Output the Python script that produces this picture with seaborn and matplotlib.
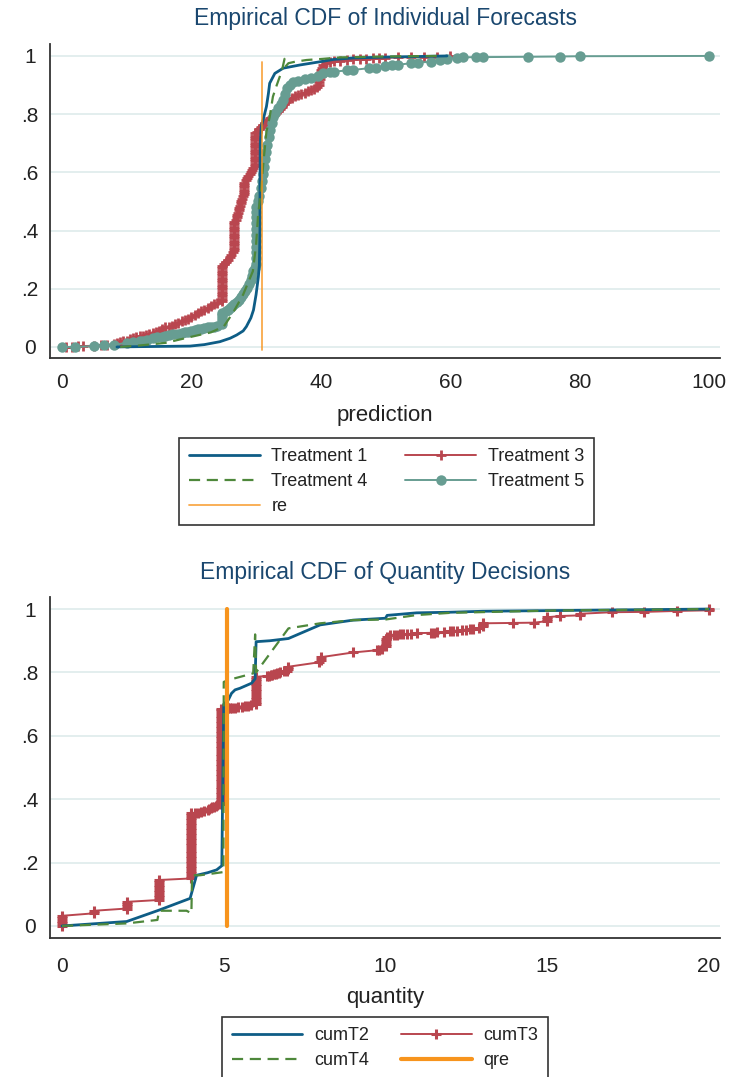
import matplotlib
matplotlib.use("Agg")
import matplotlib.pyplot as plt
import seaborn as sns
import numpy as np

# ---------------- data: top panel (prediction) ----------------
t1_x = [8.5, 12, 16, 19.8, 22, 24.4, 26, 27, 28, 28.5, 29.2, 29.6, 30.0, 30.35, 30.5, 30.6, 30.6, 30.65,
        30.8, 31.2, 31.6, 31.9, 32.1, 32.9, 34.2, 36.8, 39.9, 42, 45, 50, 55, 59.5]
t1_y = [0.0, 0.001, 0.002, 0.003, 0.008, 0.018, 0.03, 0.041, 0.055, 0.07, 0.10, 0.127, 0.18, 0.24, 0.28, 0.40, 0.55, 0.70,
        0.757, 0.79, 0.826, 0.87, 0.906, 0.94, 0.958, 0.969, 0.98, 0.988, 0.993, 0.996, 0.998, 1.0]

t3_x = [0.7, 1.5, 2.5, 3.3, 5, 6, 7, 8,
        8.5, 9, 9.5, 10, 10.5, 11, 11.5, 12, 12.5, 13, 13.5, 14, 14.5, 15, 15.5, 16, 16.5, 17, 17.5, 18,
        18.5, 19, 19.5, 20, 20.5, 21, 21.5, 22, 22.5, 23, 23.5, 24,
        24.7, 24.7, 24.7, 24.7, 24.7, 24.7, 24.7, 24.7, 24.7, 24.7, 24.7, 24.7, 24.7, 24.7, 24.7, 24.7,
        25.0, 25.3, 25.6, 25.9, 26.2, 26.4,
        26.6, 26.6, 26.6, 26.6, 26.6, 26.6, 26.6, 26.6, 26.6, 26.6, 26.6, 26.6, 26.6,
        26.9, 27.0, 27.1, 27.2, 27.3, 27.4, 27.5, 27.6, 27.7, 27.8, 28.0,
        28.2, 28.2, 28.2, 28.2, 28.2, 28.2,
        28.4, 28.6, 28.8, 29.0, 29.2, 29.4, 29.6,
        29.9, 29.9, 29.9, 29.9, 29.9, 29.9, 29.9, 29.9, 29.9, 29.9, 29.9, 29.9, 29.9, 29.9, 29.9,
        30.2, 30.5, 30.8, 31.1, 31.4, 31.8, 32.2, 32.6, 33, 33.4, 33.7, 34, 34.3, 34.6, 35, 35.5, 36, 36.5,
        37, 37.5, 38, 38.5, 39, 39.4,
        39.7, 39.8, 39.9, 40, 40, 40.1, 40.2, 40.3,
        40.8, 41.5, 42, 43, 44, 45, 46, 47, 48, 49, 50, 52, 54, 56, 58, 60]
t3_y = [0.0, 0.0, 0.002, 0.003, 0.004, 0.005, 0.006, 0.010,
        0.014, 0.018, 0.020, 0.022, 0.026, 0.030, 0.033, 0.036, 0.038, 0.040, 0.044, 0.047, 0.051, 0.055,
        0.062, 0.068, 0.070, 0.072, 0.078, 0.082, 0.088, 0.092, 0.097, 0.103, 0.110, 0.117, 0.122, 0.128,
        0.134, 0.140, 0.146, 0.150,
        0.158, 0.166, 0.174, 0.182, 0.190, 0.198, 0.206, 0.214, 0.222, 0.230, 0.238, 0.246, 0.254, 0.262, 0.270, 0.278,
        0.284, 0.292, 0.300, 0.308, 0.316, 0.325,
        0.333, 0.341, 0.349, 0.357, 0.365, 0.373, 0.381, 0.389, 0.397, 0.405, 0.413, 0.421, 0.429,
        0.437, 0.445, 0.453, 0.461, 0.469, 0.477, 0.485, 0.493, 0.501, 0.509, 0.517,
        0.525, 0.533, 0.541, 0.549, 0.557, 0.565,
        0.572, 0.579, 0.586, 0.593, 0.600, 0.607, 0.614,
        0.622, 0.630, 0.638, 0.646, 0.654, 0.662, 0.670, 0.678, 0.686, 0.694, 0.702, 0.710, 0.718, 0.726, 0.734,
        0.740, 0.748, 0.755, 0.762, 0.770, 0.778, 0.786, 0.794, 0.802, 0.810, 0.818, 0.826, 0.834, 0.842, 0.850,
        0.856, 0.862, 0.866, 0.870, 0.874, 0.878, 0.882, 0.886, 0.892,
        0.900, 0.910, 0.920, 0.930, 0.940, 0.950, 0.960, 0.970,
        0.976, 0.979, 0.981, 0.984, 0.986, 0.988, 0.990, 0.991, 0.992, 0.993, 0.994, 0.995, 0.996, 0.997, 0.998, 1.0]

t4_x = [9, 12, 16, 20, 23, 25, 26.5, 28, 29.5, 30, 30.3, 30.8, 31.2, 31.6, 32.1, 32.6, 33.2, 34.0, 34.4, 34.6,
        35, 36, 37.8, 40.3, 43, 50, 58]
t4_y = [0.0, 0.005, 0.014, 0.035, 0.05, 0.07, 0.12, 0.18, 0.26, 0.35, 0.45, 0.55, 0.65, 0.74, 0.79, 0.86, 0.90, 0.95, 0.99, 0.965,
        0.975, 0.98, 0.986, 0.99, 0.995, 0.998, 1.0]

t5_x = [0, 2, 5, 6.5, 8, 10, 11, 12, 12.5, 13.2, 14, 14.7, 15.5, 16, 16.5, 17.2, 18, 18.5, 19, 19.5, 20, 20.5,
        21, 21.5, 22, 22.5, 23, 23.5, 24,
        24.8, 24.8, 24.8, 24.8, 24.8,
        25.3, 25.7, 26, 26.3, 26.6, 27, 27.3, 27.6, 28, 28.3, 28.6, 28.9, 29.2, 29.4, 29.6, 29.8,
        30, 30, 30, 30, 30, 30, 30, 30, 30, 30, 30,
        30.3, 30.5, 30.7, 30.9, 31.1, 31.3, 31.4, 31.5, 31.7, 32, 32.2, 32.4, 32.6, 33, 33.4, 33.8, 34.2, 34.5, 34.8,
        35.2, 35.7, 36.5, 37.5, 38.5, 39.5, 40.3, 41.5, 42, 44, 45, 47.5, 48.5, 50, 51, 52, 54, 55, 57, 58.5, 59.5,
        61, 62, 64, 65, 72, 77, 80, 100]
t5_y = [0.0, 0.0, 0.003, 0.005, 0.006, 0.015, 0.018, 0.019, 0.020, 0.025, 0.030, 0.033, 0.035, 0.038, 0.040, 0.043,
        0.045, 0.048, 0.050, 0.052, 0.055, 0.058, 0.060, 0.063, 0.065, 0.067, 0.068, 0.070, 0.072,
        0.080, 0.090, 0.100, 0.110, 0.118,
        0.122, 0.128, 0.135, 0.140, 0.146, 0.155, 0.163, 0.172, 0.182, 0.192, 0.203, 0.215, 0.230, 0.245, 0.260, 0.272,
        0.285, 0.305, 0.325, 0.345, 0.365, 0.385, 0.405, 0.425, 0.445, 0.465, 0.480,
        0.500, 0.520, 0.545, 0.570, 0.595, 0.620, 0.645, 0.670, 0.695, 0.720, 0.745, 0.770, 0.790, 0.805, 0.820, 0.835,
        0.850, 0.870, 0.890, 0.900, 0.910, 0.915, 0.920, 0.925, 0.930, 0.940, 0.945, 0.946, 0.950, 0.952, 0.958, 0.960,
        0.965, 0.969, 0.970, 0.975, 0.977, 0.980, 0.985, 0.988, 0.993, 0.995, 0.996, 0.996, 0.997, 0.998, 0.999, 1.0]

re_x = [30.86, 30.86]
re_y = [-0.01, 0.979]

# ---------------- data: bottom panel (quantity) ----------------
c2_x = [0, 2, 3, 3.96, 4.16, 4.5, 4.78, 4.94, 4.97, 5.0, 5.14, 5.24, 5.35, 5.5, 5.86, 5.97, 6.0, 6.43, 7.0, 7.98,
        9.0, 10.0, 10.05, 10.96, 12, 13, 15, 17, 20]
c2_y = [0.0, 0.014, 0.05, 0.087, 0.16, 0.168, 0.177, 0.19, 0.45, 0.70, 0.713, 0.734, 0.745, 0.75, 0.766, 0.78, 0.897, 0.90,
        0.907, 0.95, 0.965, 0.971, 0.98, 0.988, 0.99, 0.993, 0.995, 0.997, 1.0]

c4_x = [0, 2, 2.95, 3.0, 3.85, 4.0, 4.02, 4.27, 4.99, 5.0, 5.14, 5.91, 5.97, 6.0, 7.0, 7.98, 9.0, 10.0, 10.96, 12,
        15, 17, 20]
c4_y = [0.0, 0.008, 0.019, 0.048, 0.048, 0.04, 0.16, 0.16, 0.17, 0.77, 0.776, 0.797, 0.92, 0.80, 0.939, 0.955, 0.965,
        0.967, 0.981, 0.988, 0.995, 0.997, 1.0]

c3_x = [0, 0, 0, 0, 0,
        1, 1,
        2, 2, 2, 2,
        3, 3, 3, 3, 3, 3, 3, 3, 3,
        4, 4, 4, 4, 4, 4, 4, 4, 4, 4, 4, 4, 4, 4, 4, 4, 4, 4, 4, 4, 4, 4, 4, 4, 4, 4, 4,
        4.1, 4.2, 4.3, 4.4, 4.5, 4.55, 4.6, 4.65, 4.7, 4.75, 4.8, 4.88,
        4.93, 4.93, 4.93, 4.93, 4.93, 4.93, 4.93, 4.93, 4.93, 4.93, 4.93, 4.93, 4.93, 4.93, 4.93, 4.93, 4.93, 4.93, 4.93,
        4.93, 4.93, 4.93, 4.93, 4.93, 4.93, 4.93, 4.93, 4.93, 4.93, 4.93, 4.93, 4.93, 4.93, 4.93, 4.93, 4.93, 4.93, 4.93,
        5.14, 5.2, 5.25, 5.35, 5.45, 5.55, 5.65, 5.75, 5.85,
        6.0, 6.0, 6.0, 6.0, 6.0, 6.0, 6.0, 6.0, 6.0, 6.0, 6.0, 6.0,
        6.33, 6.4, 6.45, 6.5, 6.55, 6.6, 6.65, 6.7, 6.75, 6.85, 6.95,
        7.0, 7.0,
        7.95, 8.0, 8.0,
        9.0,
        9.73, 9.8, 9.9, 10.0, 10.0, 10.0, 10.0, 10.04,
        10.14, 10.25, 10.35, 10.45, 10.55, 10.65, 10.8, 10.96,
        11.4, 11.5, 11.6, 11.8, 12.0, 12.1, 12.2, 12.35, 12.5, 12.6, 12.7, 12.9, 13.0, 13.0, 13.02,
        13.95, 14.6, 15.0, 15.0, 15.0, 15.4, 16.0, 16.0, 17, 18, 19, 20, 20.0]
c3_y = [0.0, 0.008, 0.016, 0.024, 0.032,
        0.040, 0.048,
        0.055, 0.062, 0.069, 0.076,
        0.082, 0.090, 0.098, 0.106, 0.114, 0.122, 0.130, 0.138, 0.145,
        0.150, 0.158, 0.166, 0.174, 0.182, 0.190, 0.198, 0.206, 0.214, 0.222, 0.230, 0.238, 0.246, 0.254, 0.262, 0.270,
        0.278, 0.286, 0.294, 0.302, 0.310, 0.318, 0.326, 0.334, 0.342, 0.350, 0.356,
        0.357, 0.358, 0.360, 0.362, 0.366, 0.369, 0.372, 0.374, 0.376, 0.379, 0.382, 0.386,
        0.392, 0.400, 0.408, 0.416, 0.424, 0.432, 0.440, 0.448, 0.456, 0.464, 0.472, 0.480, 0.488, 0.496, 0.504, 0.512,
        0.520, 0.528, 0.536, 0.544, 0.552, 0.560, 0.568, 0.576, 0.584, 0.592, 0.600, 0.608, 0.616, 0.624, 0.632, 0.640,
        0.648, 0.656, 0.664, 0.672, 0.680, 0.686,
        0.687, 0.687, 0.688, 0.689, 0.690, 0.692, 0.693, 0.695, 0.697,
        0.700, 0.708, 0.716, 0.724, 0.732, 0.740, 0.748, 0.756, 0.764, 0.772, 0.780, 0.786,
        0.789, 0.790, 0.792, 0.793, 0.795, 0.796, 0.797, 0.799, 0.800, 0.803, 0.806,
        0.810, 0.818,
        0.832, 0.840, 0.848,
        0.863,
        0.870, 0.872, 0.875, 0.883, 0.891, 0.899, 0.907, 0.913,
        0.918, 0.919, 0.919, 0.920, 0.920, 0.921, 0.922, 0.924,
        0.925, 0.925, 0.926, 0.927, 0.930, 0.931, 0.932, 0.934, 0.935, 0.937, 0.938, 0.940, 0.945, 0.950, 0.955,
        0.956, 0.957, 0.962, 0.968, 0.974, 0.978, 0.980, 0.985, 0.990, 0.991, 0.994, 0.996, 1.0]

qre_x = [5.11, 5.11]
qre_y = [0.0, 1.0]

top_xticks = [0, 20, 40, 60, 80, 100]
bot_xticks = [0, 5, 10, 15, 20]
yticks = [0, 0.2, 0.4, 0.6, 0.8, 1.0]
ytick_labels = ["0", ".2", ".4", ".6", ".8", "1"]

# ---------------- styling ----------------
sns.set_theme(style="white")
plt.rcParams["font.family"] = ["Liberation Sans", "DejaVu Sans"]

C_BLUE = "#0e5d86"
C_RED = "#b9464f"
C_GREEN = "#4e883b"
C_TEAL = "#679d92"
C_ORANGE = "#f7941d"
C_TITLE = "#1a476f"
C_GRID = "#e3eeee"
C_AX = "#333333"

W, H = 729, 1077
fig = plt.figure(figsize=(W / 100, H / 100), dpi=100)
ax1 = fig.add_axes([50 / W, 1 - 358 / H, 670 / W, 314 / H])
ax2 = fig.add_axes([50 / W, 1 - 938 / H, 670 / W, 341 / H])


def style_axes(ax, xticks, xpad):
    ax.set_facecolor("white")
    for s in ["top", "right"]:
        ax.spines[s].set_visible(False)
    for s in ["left", "bottom"]:
        ax.spines[s].set_color(C_AX)
        ax.spines[s].set_linewidth(1.3)
    ax.set_yticks(yticks)
    ax.set_yticklabels(ytick_labels)
    ax.set_xticks(xticks)
    ax.set_xticklabels([str(t) for t in xticks])
    ax.tick_params(axis="both", which="major", direction="out", length=5, width=1.3,
                   color=C_AX, labelsize=15, labelcolor="#222222")
    ax.tick_params(axis="y", pad=9.5)
    ax.tick_params(axis="x", pad=xpad)
    for lab in ax.get_yticklabels():
        lab.set_horizontalalignment("center")
    ax.yaxis.grid(True, color=C_GRID, linewidth=1.4)
    ax.xaxis.grid(False)
    ax.set_axisbelow(True)


# ---------- top panel ----------
sns.lineplot(x=t3_x, y=t3_y, ax=ax1, estimator=None, sort=False, color=C_RED, lw=1.4,
             marker="+", markersize=6.5, markeredgewidth=2.0, markeredgecolor=C_RED,
             label="Treatment 3", zorder=2)
sns.lineplot(x=t5_x, y=t5_y, ax=ax1, estimator=None, sort=False, color=C_TEAL, lw=1.4,
             marker="o", markersize=7.5, markeredgewidth=0, markerfacecolor=C_TEAL,
             label="Treatment 5", zorder=3)
sns.lineplot(x=t1_x, y=t1_y, ax=ax1, estimator=None, sort=False, color=C_BLUE, lw=2.0,
             label="Treatment 1", zorder=4)
sns.lineplot(x=t4_x, y=t4_y, ax=ax1, estimator=None, sort=False, color=C_GREEN, lw=1.6,
             linestyle=(0, (5, 3)), label="Treatment 4", zorder=5)
sns.lineplot(x=re_x, y=re_y, ax=ax1, estimator=None, sort=False, color=C_ORANGE, lw=1.3, alpha=0.8,
             label="re", zorder=6)

style_axes(ax1, top_xticks, 5.5)
ax1.set_xlim(-1.85, 101.7)
ax1.set_ylim(-0.038, 1.041)
ax1.set_xlabel("prediction", fontsize=16, color="#222222", labelpad=9.5)
ax1.set_ylabel("")
if ax1.get_legend() is not None:
    ax1.get_legend().remove()

h1, l1 = ax1.get_legend_handles_labels()
order1 = ["Treatment 1", "Treatment 4", "re", "Treatment 3", "Treatment 5"]
hd1 = dict(zip(l1, h1))
leg1 = fig.legend([hd1[k] for k in order1], order1, loc="upper center",
                  bbox_to_anchor=(386.5 / W, 1 - 438 / H), ncol=2, frameon=True, fancybox=False,
                  edgecolor=C_AX, fontsize=13, handlelength=3.9, handletextpad=0.65,
                  columnspacing=2.1, borderpad=0.55, labelspacing=0.45, framealpha=1,
                  borderaxespad=0)
leg1.get_frame().set_linewidth(1.2)
for t in leg1.get_texts():
    t.set_color("#222222")

fig.text(385 / W, 1 - 18 / H, "Empirical CDF of Individual Forecasts", ha="center", va="center",
         fontsize=16.5, color=C_TITLE)

# ---------- bottom panel ----------
sns.lineplot(x=c3_x, y=c3_y, ax=ax2, estimator=None, sort=False, color=C_RED, lw=1.4,
             marker="+", markersize=7.5, markeredgewidth=2.2, markeredgecolor=C_RED,
             label="cumT3", zorder=2)
sns.lineplot(x=c2_x, y=c2_y, ax=ax2, estimator=None, sort=False, color=C_BLUE, lw=2.0,
             label="cumT2", zorder=3)
sns.lineplot(x=c4_x, y=c4_y, ax=ax2, estimator=None, sort=False, color=C_GREEN, lw=1.6,
             linestyle=(0, (5, 3)), label="cumT4", zorder=4)
sns.lineplot(x=qre_x, y=qre_y, ax=ax2, estimator=None, sort=False, color=C_ORANGE, lw=3.0,
             label="qre", zorder=5)

style_axes(ax2, bot_xticks, 9.0)
ax2.set_xlim(-0.371, 20.34)
ax2.set_ylim(-0.038, 1.038)
ax2.set_xlabel("quantity", fontsize=16, color="#222222", labelpad=7.5)
ax2.set_ylabel("")
if ax2.get_legend() is not None:
    ax2.get_legend().remove()

h2, l2 = ax2.get_legend_handles_labels()
order2 = ["cumT2", "cumT4", "cumT3", "qre"]
hd2 = dict(zip(l2, h2))
leg2 = fig.legend([hd2[k] for k in order2], order2, loc="upper center",
                  bbox_to_anchor=(385 / W, 1 - 1017 / H), ncol=2, frameon=True, fancybox=False,
                  edgecolor=C_AX, fontsize=13, handlelength=3.9, handletextpad=0.65,
                  columnspacing=1.8, borderpad=0.55, labelspacing=0.45, framealpha=1,
                  borderaxespad=0)
leg2.get_frame().set_linewidth(1.2)
for t in leg2.get_texts():
    t.set_color("#222222")

fig.text(385 / W, 1 - 573 / H, "Empirical CDF of Quantity Decisions", ha="center", va="center",
         fontsize=16.5, color=C_TITLE)

fig.savefig("out.png", dpi=100, facecolor="white")
